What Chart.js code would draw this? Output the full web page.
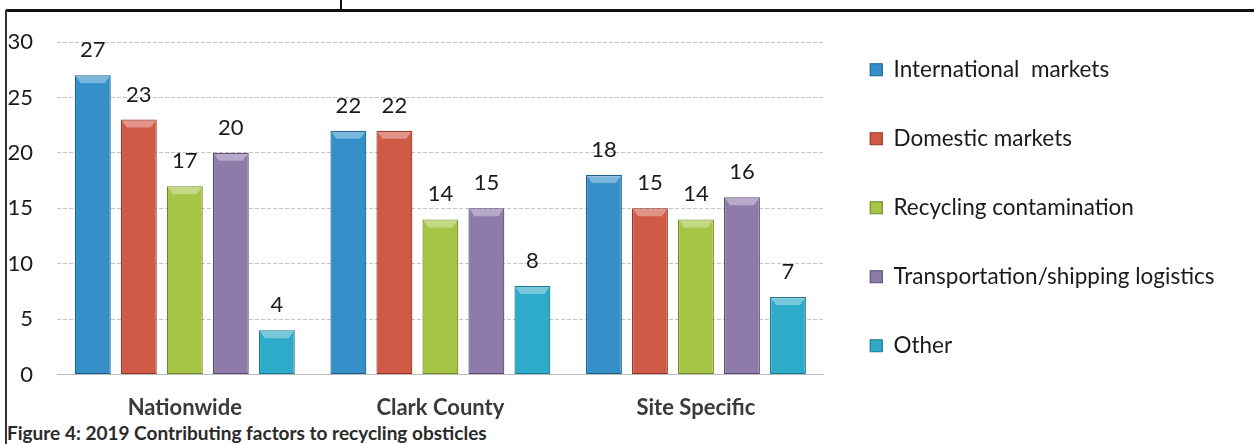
<!DOCTYPE html>
<html>
<head>
<meta charset="utf-8">
<script src="https://cdn.jsdelivr.net/npm/chart.js@4.4.1/dist/chart.umd.min.js"></script>
<style>
  html, body { margin: 0; padding: 0; background: #fff; }
  #wrap { position: relative; width: 1254px; height: 444px; overflow: hidden; background: #fff; }
  #topline { position: absolute; left: 6px; top: 9px; width: 1248px; height: 3px; background: #111; }
  #leftline { position: absolute; left: 5px; top: 10px; width: 2px; height: 434px; background: #333; }
  #tick { position: absolute; left: 340px; top: 0; width: 2px; height: 10px; background: #111; }
  #cv { position: absolute; left: 0; top: 12px; }
  #caption { position: absolute; left: 7px; top: 421px; font: bold 19px Lato, "Open Sans", sans-serif; color: #2a2a2a; white-space: nowrap; }
</style>
</head>
<body>
<div id="wrap">
  <div id="topline"></div>
  <div id="leftline"></div>
  <div id="tick"></div>
  <canvas id="cv" width="1254" height="409"></canvas>
  <div id="caption">Figure 4: 2019 Contributing factors to recycling obsticles</div>
</div>
<script>
const categories = ["Nationwide", "Clark County", "Site Specific"];
const seriesNames = ["International  markets", "Domestic markets", "Recycling contamination", "Transportation/shipping logistics", "Other"];
const international = [27, 22, 18];
const domestic = [23, 22, 15];
const contamination = [17, 14, 14];
const logistics = [20, 15, 16];
const other = [4, 8, 7];
const yTicks = [0, 5, 10, 15, 20, 25, 30];

const fills = ["#3590c9", "#cf5a45", "#a6c445", "#8e7ba9", "#2eabc8"];
const edges = ["#1c5f8e", "#983322", "#6d8a22", "#5a4975", "#1a7890"];
const seriesValues = [international, domestic, contamination, logistics, other];

const datasets = seriesValues.map((vals, i) => ({
  label: seriesNames[i],
  data: vals,
  backgroundColor: fills[i],
  borderColor: edges[i],
  borderWidth: 1.2,
  borderSkipped: false,
  categoryPercentage: 0.9,
  barPercentage: 0.78
}));

const valueLabels = {
  id: 'valueLabels',
  afterDatasetsDraw(chart) {
    const ctx = chart.ctx;
    ctx.save();
    // bevel highlight at the top of every bar
    chart.data.datasets.forEach((ds, di) => {
      const meta = chart.getDatasetMeta(di);
      meta.data.forEach((bar) => {
        const half = bar.width / 2;
        ctx.beginPath();
        ctx.moveTo(bar.x - half + 1, bar.y + 1);
        ctx.lineTo(bar.x + half - 1, bar.y + 1);
        ctx.lineTo(bar.x + half - 6, bar.y + 8);
        ctx.lineTo(bar.x - half + 6, bar.y + 8);
        ctx.closePath();
        ctx.fillStyle = 'rgba(255,255,255,0.35)';
        ctx.fill();
      });
    });
    ctx.font = '22px Lato, "Open Sans", sans-serif';
    ctx.fillStyle = '#1a1a1a';
    ctx.textAlign = 'center';
    ctx.textBaseline = 'middle';
    chart.data.datasets.forEach((ds, di) => {
      const meta = chart.getDatasetMeta(di);
      meta.data.forEach((bar, j) => {
        ctx.fillText(String(ds.data[j]), bar.x, bar.y - 25);
      });
    });
    ctx.restore();
  }
};

new Chart(document.getElementById('cv'), {
  type: 'bar',
  data: { labels: categories, datasets },
  options: {
    responsive: false,
    animation: false,
    devicePixelRatio: 1,
    layout: { padding: { left: 7.5, right: 29.5, top: 0, bottom: 0 } },
    plugins: {
      title: {
        display: true,
        text: ' ',
        font: { size: 10, lineHeight: 1 },
        padding: { top: 10, bottom: 10 }
      },
      legend: {
        position: 'right',
        align: 'start',
        maxWidth: 440,
        labels: {
          font: { family: 'Lato, "Open Sans", sans-serif', size: 22.5 },
          color: '#1a1a1a',
          boxWidth: 12,
          boxHeight: 12,
          padding: 46.5
        }
      },
      tooltip: { enabled: false }
    },
    scales: {
      x: {
        grid: { display: false, drawTicks: false },
        border: { display: true, color: '#bdbdbd', dash: [4, 2] },
        ticks: { font: { family: 'Lato, "Open Sans", sans-serif', size: 22, weight: 'bold' }, color: '#3a3a3a', padding: 20, maxRotation: 0, minRotation: 0 },
        afterFit(axis) { axis.height -= 20; }
      },
      y: {
        min: 0, max: 30,
        afterBuildTicks(axis) { axis.ticks = yTicks.map(v => ({ value: v })); },
        afterFit(axis) { axis.width -= 24; axis.paddingTop = 0; axis.paddingBottom = 0; },
        grid: { color: '#c4c4c4', drawTicks: false },
        border: { display: false, dash: [4, 2] },
        ticks: { font: { family: 'Lato, "Open Sans", sans-serif', size: 22 }, color: '#1a1a1a', padding: 24 }
      }
    }
  },
  plugins: [valueLabels]
});
</script>
</body>
</html>
